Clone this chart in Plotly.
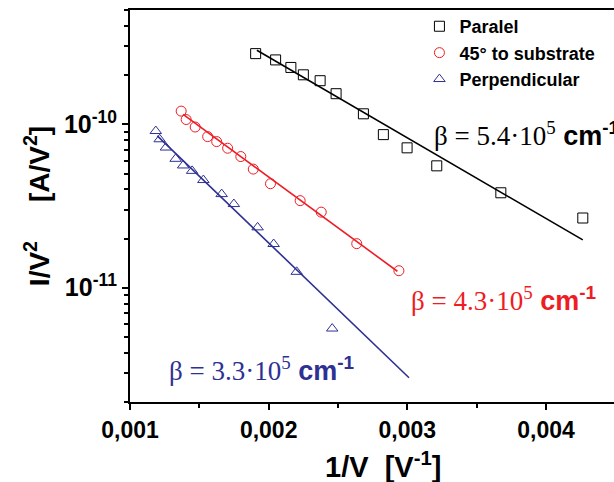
import plotly.graph_objects as go

# ---- data ----
paralel_x = [0.001906, 0.002050, 0.002160, 0.002250, 0.002371, 0.002486, 0.002683,
             0.002827, 0.002998, 0.003212, 0.003674, 0.004265]
paralel_y = [2.71e-10, 2.48e-10, 2.23e-10, 2.01e-10, 1.85e-10, 1.54e-10, 1.16e-10,
             8.65e-11, 7.18e-11, 5.57e-11, 3.81e-11, 2.67e-11]
paralel_fit_x = [0.001915, 0.004265]
paralel_fit_y = [2.84e-10, 1.96e-11]

deg45_x = [0.001369, 0.001405, 0.001470, 0.001560, 0.001625, 0.001704, 0.001799,
           0.001889, 0.002013, 0.002227, 0.002379, 0.002635, 0.002939]
deg45_y = [1.205e-10, 1.07e-10, 9.63e-11, 8.41e-11, 7.84e-11, 7.14e-11, 6.35e-11,
           5.32e-11, 4.33e-11, 3.41e-11, 2.90e-11, 1.86e-11, 1.27e-11]
deg45_fit_x = [0.001383, 0.002928]
deg45_fit_y = [1.15e-10, 1.26e-11]

perp_x = [0.001186, 0.001214, 0.001259, 0.001329, 0.001383, 0.001448, 0.001529,
          0.001661, 0.001749, 0.001920, 0.002036, 0.002202, 0.002458]
perp_y = [9.1e-11, 8.1e-11, 7.21e-11, 6.15e-11, 5.6e-11, 5.19e-11, 4.56e-11,
          3.74e-11, 3.25e-11, 2.34e-11, 1.85e-11, 1.25e-11, 5.62e-12]
perp_fit_x = [0.001197, 0.003012]
perp_fit_y = [8.49e-11, 2.81e-12]

x_tickvals = [0.001, 0.002, 0.003, 0.004]
x_ticktext = ["0,001", "0,002", "0,003", "0,004"]
y_tickvals = [1e-11, 1e-10]
y_ticktext = ["10<sup>-11</sup>", "10<sup>-10</sup>"]

series_names = ["Paralel", "45\u00b0 to substrate", "Perpendicular"]
beta_labels = ["5.4", "4.3", "3.3"]

BLACK = "#000000"
RED = "#ee1c24"
BLUE = "#2e3192"

fig = go.Figure()

# fit lines
for fx, fy, c in [(paralel_fit_x, paralel_fit_y, BLACK),
                  (deg45_fit_x, deg45_fit_y, RED),
                  (perp_fit_x, perp_fit_y, BLUE)]:
    fig.add_trace(go.Scatter(x=fx, y=fy, mode="lines", line=dict(color=c, width=1.6),
                             showlegend=False, hoverinfo="skip"))

# markers
for xs, ys, name, c, sym in [(paralel_x, paralel_y, series_names[0], BLACK, "square-open"),
                             (deg45_x, deg45_y, series_names[1], RED, "circle-open"),
                             (perp_x, perp_y, series_names[2], BLUE, "triangle-up-open")]:
    fig.add_trace(go.Scatter(x=xs, y=ys, mode="markers", name=name,
                             marker=dict(symbol=sym, size=10, color=c, line=dict(width=1, color=c))))

def beta_text(v):
    return ('<span style="font-family:\'Liberation Serif\'">\u03b2 = ' + v +
            '\u00b710<sup>5</sup></span> <b>cm<sup>-1</sup></b>')

ann = [
    (beta_labels[0], BLACK, 0.624, 0.683),
    (beta_labels[1], RED, 0.577, 0.262),
    (beta_labels[2], BLUE, 0.0765, 0.085),
]
for v, c, ax_, ay_ in ann:
    fig.add_annotation(text=beta_text(v), xref="paper", yref="paper", x=ax_, y=ay_,
                       xanchor="left", yanchor="middle", showarrow=False,
                       font=dict(family="Liberation Sans", size=27, color=c))

fig.add_annotation(text="<b>1/V\u00a0\u00a0[V<sup>-1</sup>]</b>", xref="paper", yref="paper",
                   x=0.523, y=-0.16, xanchor="center", yanchor="middle", showarrow=False,
                   font=dict(family="Liberation Sans", size=29, color="black"))

fig.update_layout(
    width=614, height=482,
    margin=dict(l=130, r=0, t=10, b=80),
    paper_bgcolor="white", plot_bgcolor="white",
    font=dict(family="Liberation Sans", color="black"),
    legend=dict(x=0.598, y=1.005, xanchor="left", yanchor="top",
                font=dict(family="Liberation Sans", size=18, color="black", weight="bold"),
                bgcolor="rgba(0,0,0,0)", tracegroupgap=0, itemwidth=30),
    showlegend=True,
)

fig.update_xaxes(
    range=[0.001, 0.00449], showgrid=False, zeroline=False,
    showline=True, linecolor="black", linewidth=2, mirror=True,
    ticks="outside", ticklen=6, tickwidth=2, tickcolor="black",
    tickvals=x_tickvals, ticktext=x_ticktext,
    tickfont=dict(family="Liberation Sans", size=23, color="black", weight="bold"),
    minor=dict(tickvals=[0.0015, 0.0025, 0.0035, 0.0045], ticks="outside", ticklen=4,
               tickwidth=2, tickcolor="black"),
)

fig.update_yaxes(
    type="log", range=[-11.70, -9.30], showgrid=False, zeroline=False,
    showline=True, linecolor="black", linewidth=2,
    ticks="outside", ticklen=6, tickwidth=2, tickcolor="black",
    tickvals=y_tickvals, ticktext=y_ticktext,
    tickfont=dict(family="Liberation Sans", size=25, color="black", weight="bold"),
    minor=dict(dtick="D1", ticks="outside", ticklen=4, tickwidth=1.5, tickcolor="black"),
    title=dict(text="<b>I/V<sup>2</sup>\u00a0\u00a0\u00a0\u00a0\u00a0[A/V<sup>2</sup>]</b>",
               font=dict(family="Liberation Sans", size=28, color="black"), standoff=6),
)

fig.write_html("out.html")
